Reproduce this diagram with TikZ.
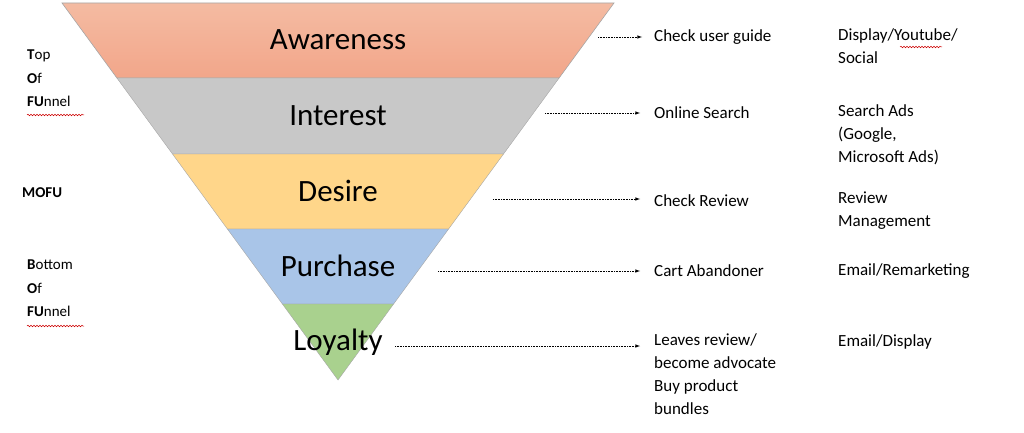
\documentclass[tikz,border=0pt]{standalone}
\usepackage{fontspec}
\setmainfont{Carlito}
\usetikzlibrary{decorations.pathmorphing}
\definecolor{bandA}{HTML}{F2A68A}
\definecolor{bandAt}{HTML}{F4BBA2}
\definecolor{bandB}{HTML}{C8C8C8}
\definecolor{bandC}{HTML}{FFD68A}
\definecolor{bandD}{HTML}{A9C5E8}
\definecolor{bandE}{HTML}{A9D18E}
\begin{document}
\begin{tikzpicture}[x=1pt,y=-1pt,
  band/.style={draw=black!35,line width=0.6pt},
  stage/.style={font=\fontsize{31}{31}\selectfont},
  txt/.style={anchor=west,align=left,font=\fontsize{17}{23}\selectfont,inner sep=0pt},
  side/.style={anchor=west,align=left,font=\fontsize{15}{23.5}\selectfont,inner sep=0pt},
  conn/.style={densely dotted,-latex,line width=0.6pt},
  squig/.style={red!80!black,line width=0.5pt,decorate,decoration={snake,amplitude=0.8pt,segment length=3pt}}]
\useasboundingbox (0,0) rectangle (1024,433);
\shade[band,top color=bandAt,bottom color=bandA] (62,3) -- (614,3) -- (559.1,78) -- (116.9,78) -- cycle;
\fill[bandB,draw=black!35] (116.9,78) -- (559.1,78) -- (503.5,154) -- (172.5,154) -- cycle;
\fill[bandC,draw=black!35] (172.5,154) -- (503.5,154) -- (448.6,229) -- (227.4,229) -- cycle;
\fill[bandD,draw=black!35] (227.4,229) -- (448.6,229) -- (393.6,304) -- (282.4,304) -- cycle;
\fill[bandE,draw=black!35] (282.4,304) -- (393.6,304) -- (338,380) -- cycle;
\node[stage] (aw) at (338,40) {Awareness};
\node[stage] (in) at (338,116) {Interest};
\node[stage] (de) at (338,191) {Desire};
\node[stage] (pu) at (338,266) {Purchase};
\node[stage] (lo) at (338,342) {Loyalty};
\coordinate (aws) at (598,37); \coordinate (ins) at (545,113);
\coordinate (des) at (493,199); \coordinate (pus) at (438,271);
\coordinate (los) at (395,346);
\node[txt] (a1) at (654,37) {Check user guide};
\node[txt] (i1) at (654,113) {Online Search};
\node[txt] (d1) at (654,201) {Check Review};
\node[txt] (p1) at (654,271) {Cart Abandoner};
\node[txt,anchor=north west] (l1) at (654,333) {Leaves review/\\become advocate\\Buy product\\bundles};
\draw[conn] (aws) -- (a1.west -| 642,0);
\draw[conn] (ins) -- (640,113);
\draw[conn] (des) -- (640,199);
\draw[conn] (pus) -- (640,271);
\draw[conn] (los) -- (640,346);
\node[txt,anchor=north west] (a2) at (838,28) {Display/Youtube/\\Social};
\node[txt,anchor=north west] (i2) at (838,104) {Search Ads\\(Google,\\Microsoft Ads)};
\node[txt,anchor=north west] (d2) at (838,192) {Review\\Management};
\node[txt] (p2) at (838,271) {Email/Remarketing};
\node[txt] (l2) at (838,342) {Email/Display};
\draw[squig] (900,47) -- (942,47);
\node[side,anchor=north west] (tofu) at (27,50) {\textbf{T}op\\\textbf{O}f\\\textbf{FU}nnel};
\node[side] (mofu) at (22,193) {\textbf{MOFU}};
\node[side,anchor=north west] (bofu) at (27,260) {\textbf{B}ottom\\\textbf{O}f\\\textbf{FU}nnel};
\draw[squig] (27,115) -- (84,115);
\draw[squig] (27,326) -- (84,326);
\end{tikzpicture}
\end{document}
